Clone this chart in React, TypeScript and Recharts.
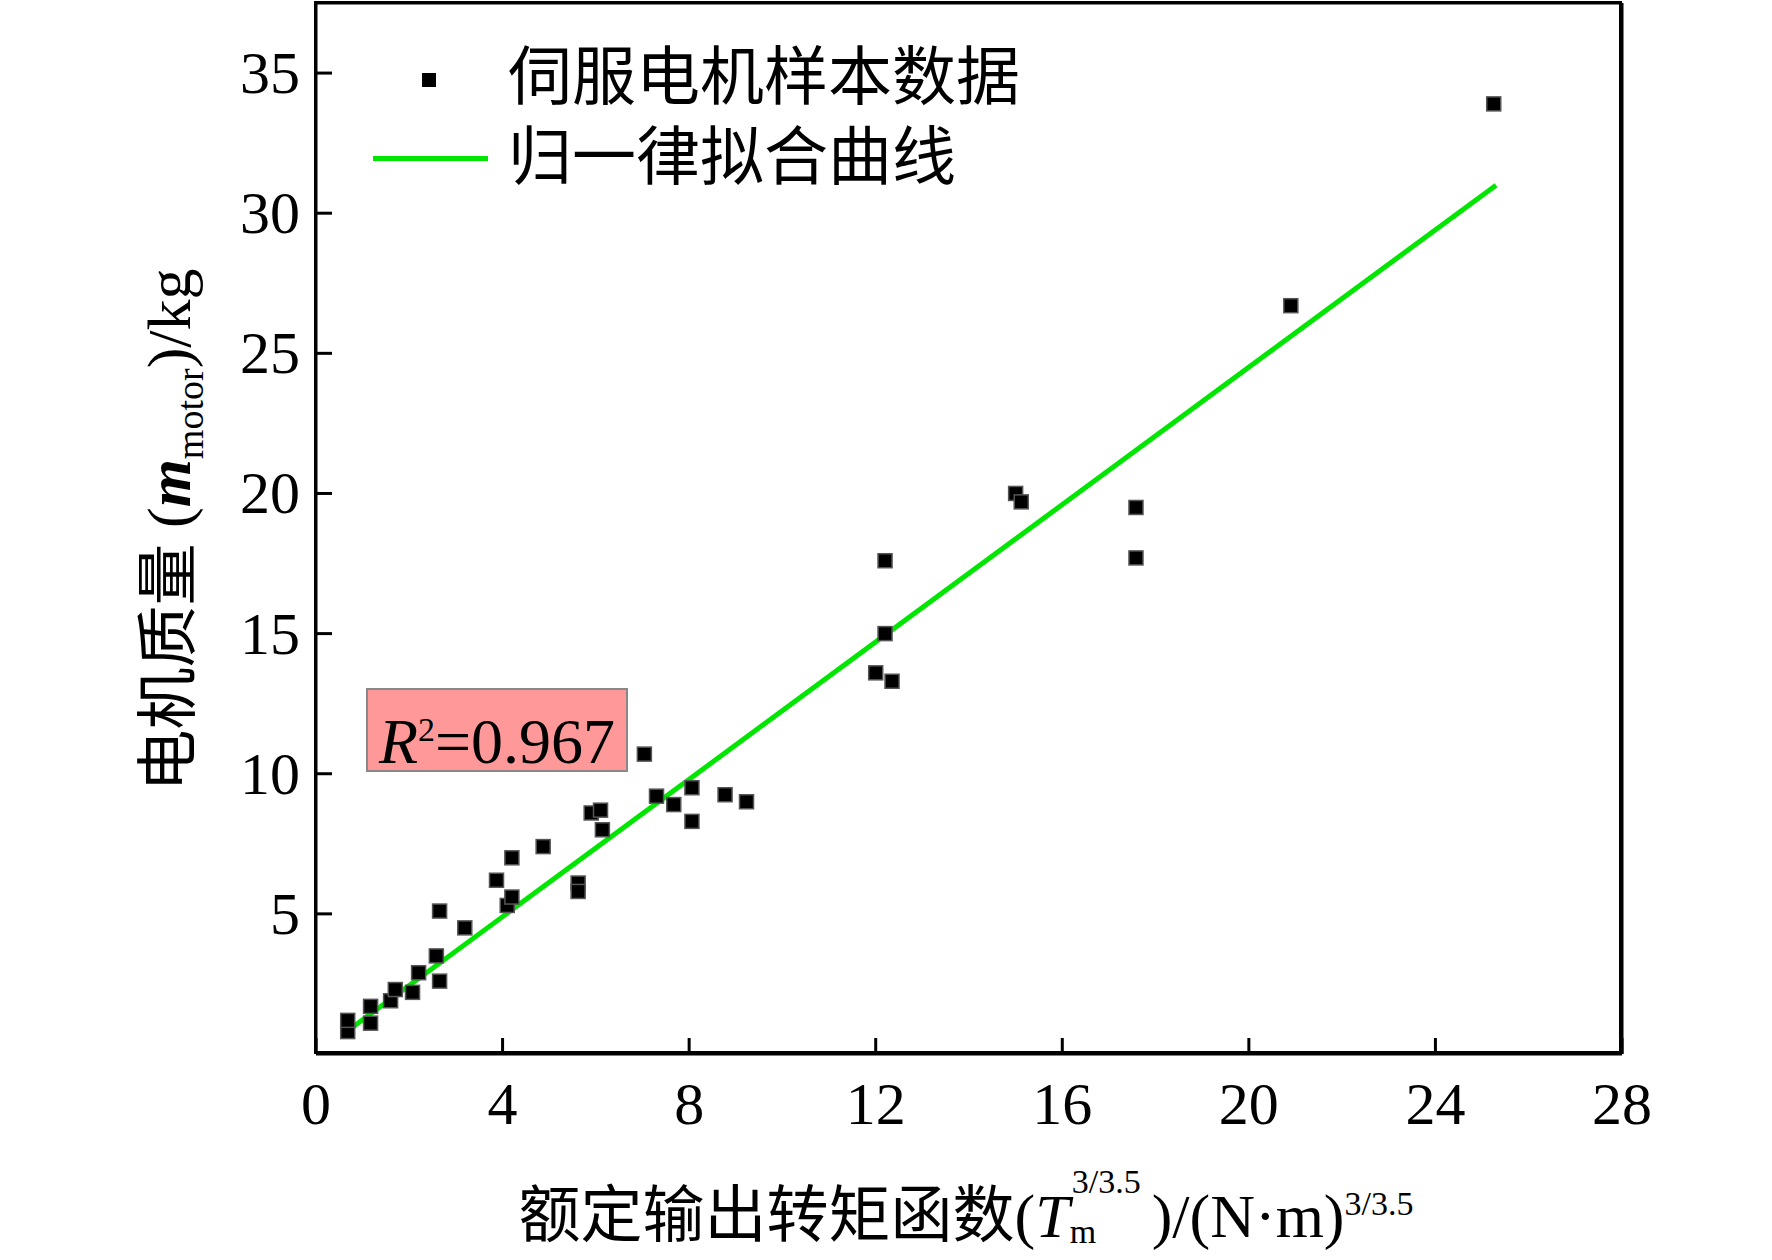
import { ScatterChart, Scatter, XAxis, YAxis } from 'recharts'

// 伺服电机样本数据
const torqueFn = [0.68, 0.68, 1.17, 1.17, 1.6, 1.7, 2.07, 2.2, 2.58, 2.65, 2.65, 3.19, 3.87, 4.1, 4.2, 4.2, 4.87, 5.62, 5.62, 5.9, 6.1, 6.14, 7.04, 7.3, 7.67, 8.06, 8.06, 8.77, 9.23, 12.0, 12.2, 12.2, 12.35, 15.0, 15.12, 17.58, 17.58, 20.9, 25.25]
const motorMass = [0.8, 1.2, 1.7, 1.1, 1.9, 2.3, 2.2, 2.9, 3.5, 2.6, 5.1, 4.5, 6.2, 5.3, 5.6, 7.0, 7.4, 6.1, 5.8, 8.6, 8.7, 8.0, 10.7, 9.2, 8.9, 9.5, 8.3, 9.25, 9.0, 13.6, 17.6, 15.0, 13.3, 20.0, 19.7, 19.5, 17.7, 26.7, 33.9]

// 归一律拟合曲线 endpoints
const fitX = [0.68, 25.3]
const fitY = [0.83, 31.0]

const xTicks = [0, 4, 8, 12, 16, 20, 24, 28]
const yTicks = [5, 10, 15, 20, 25, 30, 35]

const samples = torqueFn.map((x, i) => ({ x, y: motorMass[i] }))
const fitLine = fitX.map((x, i) => ({ x, y: fitY[i] }))

const FONT = '"Liberation Serif", "Noto Sans CJK SC", serif'
const TICK_LEN = 16

const BottomTick = ({ x, y, payload }: any) => (
  <g>
    <line x1={x} x2={x} y1={y} y2={y - TICK_LEN} stroke="#000" strokeWidth={3} />
    <text x={x} y={y + 70} textAnchor="middle" fontSize={60} fontFamily={FONT} fill="#000">{payload.value}</text>
  </g>
)
const TopTick = ({ x, y }: any) => (
  <line x1={x} x2={x} y1={y} y2={y + TICK_LEN} stroke="#000" strokeWidth={3} />
)
const LeftTick = ({ x, y, payload }: any) => (
  <g>
    <line x1={x} x2={x + TICK_LEN} y1={y} y2={y} stroke="#000" strokeWidth={3} />
    <text x={x - 16} y={y + 20} textAnchor="end" fontSize={60} fontFamily={FONT} fill="#000">{payload.value}</text>
  </g>
)
const RightTick = ({ x, y }: any) => (
  <line x1={x} x2={x - TICK_LEN} y1={y} y2={y} stroke="#000" strokeWidth={3} />
)

const Square = ({ cx, cy }: any) => (
  <rect x={cx - 7} y={cy - 7} width={14} height={14} fill="#000" stroke="#555" strokeWidth={1.5} />
)

export default function App() {
  return (
    <div style={{ position: 'absolute', left: 0, top: 0, width: 1772, height: 1260, background: '#fff', fontFamily: FONT }}>
      <ScatterChart width={1772} height={1260} margin={{ top: 2, right: 149, left: 0, bottom: 0 }}>
        <XAxis xAxisId="b" type="number" dataKey="x" domain={[0, 28]} ticks={xTicks} height={206}
          tickSize={0} tickMargin={0} tickLine={false} axisLine={{ stroke: '#000', strokeWidth: 3 }} tick={<BottomTick />} />
        <XAxis xAxisId="t" orientation="top" type="number" dataKey="x" domain={[0, 28]} ticks={xTicks} height={1}
          tickSize={0} tickMargin={0} tickLine={false} axisLine={{ stroke: '#000', strokeWidth: 3 }} tick={<TopTick />} />
        <YAxis yAxisId="l" type="number" dataKey="y" domain={[0, 37.5]} ticks={yTicks} width={316}
          tickSize={0} tickMargin={0} tickLine={false} axisLine={{ stroke: '#000', strokeWidth: 3 }} tick={<LeftTick />} />
        <YAxis yAxisId="r" orientation="right" type="number" dataKey="y" domain={[0, 37.5]} ticks={yTicks} width={1}
          tickSize={0} tickMargin={0} tickLine={false} axisLine={{ stroke: '#000', strokeWidth: 3 }} tick={<RightTick />} />
        <Scatter xAxisId="b" yAxisId="l" data={fitLine} line={{ stroke: '#00e600', strokeWidth: 5 }} shape={() => <g />} isAnimationActive={false} />
        <Scatter xAxisId="b" yAxisId="l" data={samples} shape={<Square />} isAnimationActive={false} />
      </ScatterChart>

      {/* plot frame */}
      <div style={{ position: 'absolute', left: 314, top: 1, width: 1308, height: 1053, boxSizing: 'border-box', border: '3px solid #000', pointerEvents: 'none' }} />

      {/* legend */}
      <div style={{ position: 'absolute', left: 422, top: 73, width: 14, height: 14, background: '#000' }} />
      <div style={{ position: 'absolute', left: 508, top: 38, fontSize: 64, lineHeight: '80px', whiteSpace: 'nowrap' }}>伺服电机样本数据</div>
      <div style={{ position: 'absolute', left: 373, top: 156, width: 115, height: 5, background: '#00e600' }} />
      <div style={{ position: 'absolute', left: 508, top: 118, fontSize: 64, lineHeight: '80px', whiteSpace: 'nowrap' }}>归一律拟合曲线</div>

      {/* R² box */}
      <div style={{ position: 'absolute', left: 366, top: 688, width: 262, height: 84, boxSizing: 'border-box', background: '#ff9999', border: '2px solid #888',
        fontSize: 64, lineHeight: '80px', textAlign: 'center', whiteSpace: 'nowrap' }}>
        <i>R</i><sup style={{ fontSize: 34 }}>2</sup>=0.967
      </div>

      {/* y label */}
      <div style={{ position: 'absolute', left: 165, top: 530, transform: 'translate(-50%, -50%) rotate(-90deg)', fontSize: 62, whiteSpace: 'nowrap' }}>
        电机质量 (<i style={{ fontWeight: 'bold' }}>m</i><sub style={{ fontSize: 38 }}>motor</sub>)/kg
      </div>

      {/* x label */}
      <div style={{ position: 'absolute', left: 966, top: 1210, transform: 'translate(-50%, -50%)', fontSize: 62, lineHeight: '80px', whiteSpace: 'nowrap' }}>
        额定输出转矩函数(<i>T</i>
        <span style={{ position: 'relative', display: 'inline-block', width: 82, height: 40 }}>
          <span style={{ position: 'absolute', left: 2, top: -32, fontSize: 34, lineHeight: '34px' }}>3/3.5</span>
          <span style={{ position: 'absolute', left: 0, top: 18, fontSize: 34, lineHeight: '34px' }}>m</span>
        </span>)/(N·m)<sup style={{ fontSize: 34 }}>3/3.5</sup>
      </div>
    </div>
  )
}
